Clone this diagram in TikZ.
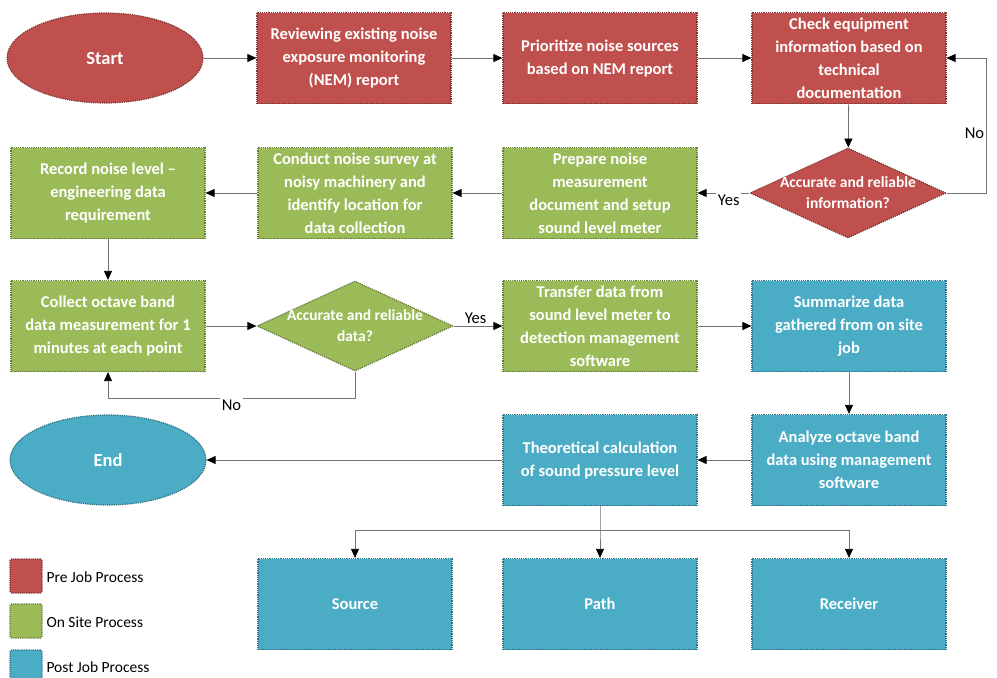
\documentclass[tikz,border=0pt]{standalone}
\usepackage{fontspec}
\setmainfont{Carlito}
\usepackage{tikz}
\usetikzlibrary{arrows.meta,shapes.geometric}

\definecolor{prered}{HTML}{C0504D}
\definecolor{sitegreen}{HTML}{9BBB59}
\definecolor{postblue}{HTML}{4BACC6}

\begin{document}
\begin{tikzpicture}[x=1pt,y=-1pt,auto,
  >={Triangle[length=9pt,width=8pt,color=black]},
  link/.style={draw=black!55,line width=0.8pt,->},
  boxtext/.style={text=white,font=\bfseries\fontsize{16.5}{23}\selectfont,align=center},
  difftext/.style={text=white,font=\bfseries\fontsize{15.5}{21}\selectfont,align=center},
  procbox/.style={rectangle,boxtext,minimum width=194pt,minimum height=91pt,inner sep=0pt,densely dotted,line width=1.2pt},
  terminal/.style={ellipse,boxtext,font=\bfseries\fontsize{18.5}{23}\selectfont,minimum width=196pt,minimum height=90pt,inner sep=0pt,densely dotted,line width=1.2pt},
  decision/.style={diamond,minimum width=196pt,minimum height=90pt,inner sep=0pt,densely dotted,line width=1.2pt},
  pre/.style={fill=prered,draw=prered!65!black},
  site/.style={fill=sitegreen,draw=sitegreen!65!black},
  post/.style={fill=postblue,draw=postblue!65!black},
  answer/.style={fill=white,inner sep=1.5pt,font=\fontsize{16.5}{18}\selectfont},
  legendbox/.style={rectangle,minimum width=32pt,minimum height=34pt,inner sep=0pt,densely dotted,line width=1.2pt,rounded corners=1.5pt},
  legendtext/.style={anchor=west,font=\fontsize{15.5}{18}\selectfont}]
\useasboundingbox (0,0) rectangle (997,678);

% pre job process
\node[terminal,pre] (start)  at (105,58)  {Start};
\node[procbox,pre]  (review) at (354,58)  {Reviewing existing noise\\exposure monitoring\\(NEM) report};
\node[procbox,pre]  (prio)   at (600,58)  {Prioritize noise sources\\based on NEM report};
\node[procbox,pre]  (check)  at (849,58)  {Check equipment\\information based on\\technical\\documentation};
\node[decision,pre] (info)   at (848,193) {};
\node[difftext]     (infotxt) at (info) {Accurate and reliable\\information?};

% on site process
\node[procbox,site] (prepare) at (600,193) {Prepare noise\\measurement\\document and setup\\sound level meter};
\node[procbox,site] (survey)  at (355,193) {Conduct noise survey at\\noisy machinery and\\identify location for\\data collection};
\node[procbox,site] (record)  at (108,193) {Record noise level --\\engineering data\\requirement};
\node[procbox,site] (collect) at (108,326) {Collect octave band\\data measurement for 1\\minutes at each point};
\node[decision,site] (data)   at (355,326) {};
\node[difftext]     (datatxt) at (data) {Accurate and reliable\\data?};
\node[procbox,site] (transfer) at (600,326) {Transfer data from\\sound level meter to\\detection management\\software};

% post job process
\node[procbox,post] (summ)    at (849,326) {Summarize data\\gathered from on site\\job};
\node[procbox,post] (analyze) at (849,460) {Analyze octave band\\data using management\\software};
\node[procbox,post] (theory)  at (600,460) {Theoretical calculation\\of sound pressure level};
\node[terminal,post] (end)    at (108,460) {End};
\node[procbox,post] (source)  at (355,604) {Source};
\node[procbox,post] (path)    at (600,604) {Path};
\node[procbox,post] (recv)    at (849,604) {Receiver};

% connectors
\draw[link] (start) -- (review);
\draw[link] (review) -- (prio);
\draw[link] (prio) -- (check);
\draw[link] (check) -- (info);
\draw[link] (info.east) -- (986,193) |- node[answer,pos=0.22] {No} (check.east);
\draw[link] (info.west) -- node[answer,pos=0.4] {Yes} (prepare.east);
\draw[link] (prepare) -- (survey);
\draw[link] (survey) -- (record);
\draw[link] (record) -- (collect);
\draw[link] (collect) -- (data.west);
\draw[link] (data.east) -- node[answer,pos=0.45] {Yes} (transfer.west);
\draw[link] (data.south) -- (355,398) -| node[answer,pos=0.25] {No} (collect.south);
\draw[link] (transfer) -- (summ);
\draw[link] (summ) -- (analyze);
\draw[link] (analyze) -- (theory);
\draw[link] (theory) -- (end);
\coordinate (split) at (600,530);
\draw[link] (theory.south) -- (split) -- (path.north);
\draw[link] (split) -| (source.north);
\draw[link] (split) -| (recv.north);

% legend
\node[legendbox,pre]  (keypre)  at (26,576) {};
\node[legendbox,site] (keysite) at (26,621) {};
\node[legendbox,post] (keypost) at (26,667) {};
\node[legendtext] (keypretxt)  at (43,577) {Pre Job Process};
\node[legendtext] (keysitetxt) at (43,622) {On Site Process};
\node[legendtext] (keyposttxt) at (43,667) {Post Job Process};
\end{tikzpicture}
\end{document}
